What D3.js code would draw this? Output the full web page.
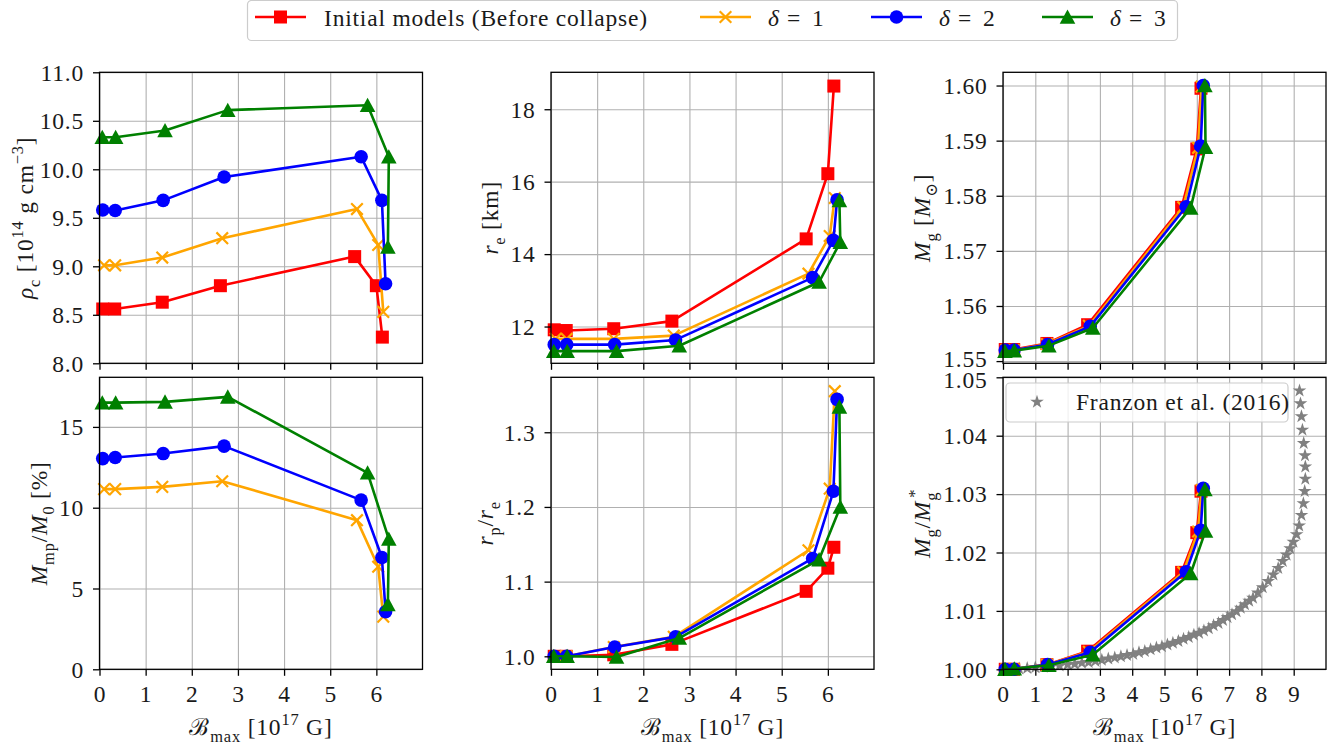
<!DOCTYPE html>
<html>
<head>
<meta charset="utf-8">
<script src="https://cdn.jsdelivr.net/npm/d3@7"></script>
<style>
  html, body { margin: 0; padding: 0; background: #fff; }
  svg { display: block; }
  svg text { font-family: "Liberation Serif", "Times New Roman", "DejaVu Serif", serif; letter-spacing: 0.8px; }
</style>
</head>
<body>
<svg id="chart" width="1343" height="748"></svg>
<script>
// ---- Maximum magnetic field B_max [1e17 G] for each sequence ----
const bInitial = [0.07, 0.33, 1.36, 2.62, 5.53, 6.00, 6.13];
const bDelta1  = [0.10, 0.34, 1.36, 2.66, 5.58, 6.04, 6.15];
const bDelta2  = [0.07, 0.34, 1.38, 2.70, 5.67, 6.12, 6.20];
const bDelta3  = [0.06, 0.35, 1.42, 2.78, 5.81, 6.27, 6.25];

// ---- Central density rho_c [1e14 g cm^-3] ----
const rhoInitial = [8.56, 8.56, 8.63, 8.80, 9.10, 8.80, 8.27];
const rhoDelta1  = [9.01, 9.01, 9.09, 9.29, 9.59, 9.22, 8.53];
const rhoDelta2  = [9.58, 9.575, 9.68, 9.92, 10.13, 9.68, 8.82];
const rhoDelta3  = [10.33, 10.33, 10.40, 10.61, 10.66, 10.13, 9.20];

// ---- Equatorial radius r_e [km] ----
const reInitial = [11.91, 11.89, 11.94, 12.15, 14.42, 16.22, 18.64];
const reDelta1  = [11.66, 11.66, 11.66, 11.75, 13.46, 14.50, 15.55];
const reDelta2  = [11.50, 11.50, 11.50, 11.63, 13.35, 14.38, 15.50];
const reDelta3  = [11.32, 11.32, 11.32, 11.47, 13.23, 14.33, 15.48];

// ---- Gravitational mass M_g [M_sun] ----
const mgInitial = [1.5521, 1.5521, 1.5532, 1.5566, 1.5779, 1.5885, 1.5995];
const mgDelta1  = [1.5520, 1.5520, 1.5531, 1.5564, 1.5779, 1.5887, 1.5998];
const mgDelta2  = [1.5520, 1.5520, 1.5530, 1.5563, 1.5780, 1.5890, 1.6000];
const mgDelta3  = [1.5518, 1.5519, 1.5528, 1.5560, 1.5778, 1.5888, 1.6000];

// ---- Ejected/mass-loss fraction M_mp/M_0 [%] (collapsed models only) ----
const mmpDelta1 = [11.15, 11.15, 11.29, 11.64, 9.23, 6.35, 3.26];
const mmpDelta2 = [13.04, 13.11, 13.35, 13.81, 10.47, 6.92, 3.56];
const mmpDelta3 = [16.50, 16.50, 16.55, 16.86, 12.16, 8.06, 4.02];

// ---- Axis ratio r_p/r_e ----
const rpInitial = [1.000, 1.000, 1.002, 1.016, 1.087, 1.118, 1.146];
const rpDelta1  = [1.000, 1.000, 1.0125, 1.026, 1.142, 1.2245, 1.355];
const rpDelta2  = [1.000, 1.000, 1.0125, 1.026, 1.131, 1.221, 1.344];
const rpDelta3  = [1.000, 1.000, 0.999, 1.0245, 1.1295, 1.200, 1.334];

// ---- Mass ratio M_g / M_g* ----
const ratioInitial = [1.0000, 1.0000, 1.0008, 1.0031, 1.0166, 1.0234, 1.0305];
const ratioDelta1  = [1.0000, 1.0000, 1.0008, 1.0030, 1.0166, 1.0236, 1.0307];
const ratioDelta2  = [1.0000, 1.0000, 1.0008, 1.0029, 1.0167, 1.0238, 1.0310];
const ratioDelta3  = [1.0000, 1.0001, 1.0007, 1.0025, 1.0164, 1.0237, 1.0308];

// ---- Franzon et al. (2016) sequence ----
const franzonB = [0.50,0.75,1.00,1.25,1.50,1.75,2.00,2.22,2.44,2.65,2.86,3.06,3.26,3.46,3.65,3.84,
  4.03,4.21,4.39,4.57,4.75,4.92,5.09,5.26,5.43,5.59,5.75,5.91,6.07,6.22,6.37,6.52,6.67,6.81,6.95,
  7.09,7.23,7.36,7.49,7.62,7.74,7.89,8.04,8.21,8.37,8.52,8.66,8.78,8.89,8.99,9.09,9.17,9.24,9.30,
  9.34,9.36,9.36,9.35,9.31,9.27,9.24,9.21,9.18];
const franzonRatio = [1.0001,1.0002,1.0003,1.0004,1.0005,1.0006,1.0008,1.0009,1.0011,1.0012,1.0014,
  1.0016,1.0018,1.0020,1.0022,1.0024,1.0026,1.0029,1.0031,1.0034,1.0037,1.0039,1.0042,1.0045,1.0048,
  1.0052,1.0055,1.0059,1.0062,1.0066,1.0070,1.0075,1.0079,1.0084,1.0089,1.0094,1.0099,1.0105,1.0111,
  1.0117,1.0122,1.0131,1.0140,1.0151,1.0162,1.0173,1.0185,1.0196,1.0207,1.0218,1.0231,1.0246,1.0264,
  1.0284,1.0305,1.0326,1.0347,1.0366,1.0387,1.0410,1.0433,1.0455,1.0477];

// ---- Legend labels ----
const legendLabels = ["Initial models (Before collapse)", "δ = 1", "δ = 2", "δ = 3"];

// ---- Drawing ----
const svg = d3.select("#chart");
const FONT = "Liberation Serif, Times New Roman, DejaVu Serif, serif";
const FS = 23.5;

const series = [
  { key: "initial", color: "#ff0000", marker: "square",   b: bInitial },
  { key: "delta1",  color: "#ffa500", marker: "x",        b: bDelta1 },
  { key: "delta2",  color: "#0000ff", marker: "circle",   b: bDelta2 },
  { key: "delta3",  color: "#008000", marker: "triangle", b: bDelta3 }
];

const cols = [[99.5, 422.5], [551, 874], [1003, 1326]];
const rows = [[72.3, 363.3], [377.3, 669.3]];
const xDomains = [[0, 7], [0, 7], [0, 10]];
const xTicks = [d3.range(0, 7), d3.range(0, 7), d3.range(0, 10)];

const panels = [
  { c: 0, r: 0, y: [8, 11], ticks: [8, 8.5, 9, 9.5, 10, 10.5, 11], fmt: d3.format(".1f"),
    vals: { initial: rhoInitial, delta1: rhoDelta1, delta2: rhoDelta2, delta3: rhoDelta3 },
    labelX: 33,
    label: [{t:"ρ",it:1},{t:"c",sub:1},{t:" [10"},{t:"14",sup:1},{t:" g cm"},{t:"−3",sup:1},{t:"]"}] },
  { c: 1, r: 0, y: [10.985, 19.02], ticks: [12, 14, 16, 18], fmt: d3.format("d"),
    vals: { initial: reInitial, delta1: reDelta1, delta2: reDelta2, delta3: reDelta3 },
    labelX: 498,
    label: [{t:"r",it:1},{t:"e",sub:1},{t:" [km]"}] },
  { c: 2, r: 0, y: [1.5496, 1.6024], ticks: [1.55, 1.56, 1.57, 1.58, 1.59, 1.60], fmt: d3.format(".2f"),
    vals: { initial: mgInitial, delta1: mgDelta1, delta2: mgDelta2, delta3: mgDelta3 },
    labelX: 930, edgeShift: { 1.55: -2 },
    label: [{t:"M",it:1},{t:"g",sub:1},{t:" ["},{t:"M",it:1},{t:"⊙",sub:1},{t:"]"}] },
  { c: 0, r: 1, y: [0, 18.07], ticks: [0, 5, 10, 15], fmt: d3.format("d"),
    vals: { delta1: mmpDelta1, delta2: mmpDelta2, delta3: mmpDelta3 },
    labelX: 47,
    label: [{t:"M",it:1},{t:"mp",sub:1},{t:"/"},{t:"M",it:1},{t:"0",sub:1},{t:" [%]"}] },
  { c: 1, r: 1, y: [0.9826, 1.3736], ticks: [1.0, 1.1, 1.2, 1.3], fmt: d3.format(".1f"),
    vals: { initial: rpInitial, delta1: rpDelta1, delta2: rpDelta2, delta3: rpDelta3 },
    labelX: 493,
    label: [{t:"r",it:1},{t:"p",sub:1},{t:"/"},{t:"r",it:1},{t:"e",sub:1}] },
  { c: 2, r: 1, y: [1.0, 1.05], ticks: [1.00, 1.01, 1.02, 1.03, 1.04, 1.05], fmt: d3.format(".2f"),
    vals: { initial: ratioInitial, delta1: ratioDelta1, delta2: ratioDelta2, delta3: ratioDelta3 },
    labelX: 930, franzon: true, edgeShift: { 1.05: 2 },
    label: [{t:"M",it:1},{t:"g",sub:1},{t:"/"},{t:"M",it:1},{t:"g",sub:1},{t:"*",sup:1,dx:-6}] }
];

// Appends sub/superscript-aware tspans to a text element
function rich(text, parts, fs) {
  let shift = 0;
  parts.forEach(p => {
    const ts = text.append("tspan").text(p.t);
    const target = p.sub ? fs * 0.3 : p.sup ? -fs * 0.42 : 0;
    const dy = target - shift;
    if (dy !== 0) ts.attr("dy", dy);
    shift = target;
    if (p.sub || p.sup) ts.attr("font-size", fs * 0.7);
    if (p.it) ts.attr("font-style", "italic");
    if (p.dx) ts.attr("dx", p.dx);
  });
}

function drawMarker(g, type, x, y, color) {
  if (type === "square") {
    g.append("rect").attr("x", x - 6.5).attr("y", y - 6.5).attr("width", 13).attr("height", 13)
      .attr("fill", color);
  } else if (type === "circle") {
    g.append("circle").attr("cx", x).attr("cy", y).attr("r", 6.8).attr("fill", color);
  } else if (type === "triangle") {
    g.append("path").attr("d", `M${x},${y - 7.5}L${x + 7.8},${y + 6.8}L${x - 7.8},${y + 6.8}Z`)
      .attr("fill", color);
  } else if (type === "x") {
    const s = 5.8;
    g.append("path").attr("d", `M${x - s},${y - s}L${x + s},${y + s}M${x - s},${y + s}L${x + s},${y - s}`)
      .attr("stroke", color).attr("stroke-width", 2.2).attr("fill", "none");
  } else if (type === "star") {
    g.append("path").attr("d", d3.symbol(d3.symbolStar, 58)()).attr("transform", `translate(${x},${y})`)
      .attr("fill", "#808080");
  }
}

panels.forEach(p => {
  const [x0, x1] = cols[p.c];
  const [y0, y1] = rows[p.r];
  const x = d3.scaleLinear().domain(xDomains[p.c]).range([x0, x1]);
  const y = d3.scaleLinear().domain(p.y).range([y1, y0]);
  const g = svg.append("g");

  // grid
  g.append("g").attr("transform", `translate(0,${y1})`)
    .call(d3.axisBottom(x).tickValues(xTicks[p.c]).tickSize(-(y1 - y0)).tickFormat(""))
    .call(a => a.select(".domain").remove())
    .call(a => a.selectAll("line").attr("stroke", "#b0b0b0").attr("stroke-width", 1.1));
  g.append("g").attr("transform", `translate(${x0},0)`)
    .call(d3.axisLeft(y).tickValues(p.ticks).tickSize(-(x1 - x0)).tickFormat(""))
    .call(a => a.select(".domain").remove())
    .call(a => a.selectAll("line").attr("stroke", "#b0b0b0").attr("stroke-width", 1.1));

  // reference sequence
  if (p.franzon) {
    const fg = g.append("g");
    franzonB.forEach((b, i) => drawMarker(fg, "star", x(b), y(franzonRatio[i]), "#808080"));
  }

  // series lines and markers
  series.forEach(s => {
    const v = p.vals[s.key];
    if (!v) return;
    const pts = s.b.map((b, i) => [x(b), y(v[i])]);
    g.append("path").attr("d", d3.line()(pts)).attr("fill", "none")
      .attr("stroke", s.color).attr("stroke-width", 2.6).attr("stroke-linejoin", "round");
    const mg = g.append("g");
    pts.forEach(([px, py]) => drawMarker(mg, s.marker, px, py, s.color));
  });

  // frame
  g.append("rect").attr("x", x0).attr("y", y0).attr("width", x1 - x0).attr("height", y1 - y0)
    .attr("fill", "none").attr("stroke", "#000").attr("stroke-width", 1.3);

  // x axis ticks
  const xa = g.append("g").attr("transform", `translate(0,${y1})`)
    .call(d3.axisBottom(x).tickValues(xTicks[p.c]).tickSize(6.5).tickPadding(10)
      .tickFormat(p.r === 1 ? d3.format("d") : ""));
  xa.attr("font-family", null).attr("font-size", null);
  xa.select(".domain").remove();
  xa.selectAll("line").attr("stroke", "#000").attr("stroke-width", 1.3);
  xa.selectAll("text").style("font-family", FONT).attr("font-size", FS).attr("fill", "#1a1a1a")
    .attr("dy", "0.71em");

  // y axis ticks
  const ya = g.append("g").attr("transform", `translate(${x0},0)`)
    .call(d3.axisLeft(y).tickValues(p.ticks).tickSize(6.5).tickPadding(9).tickFormat(p.fmt));
  ya.attr("font-family", null).attr("font-size", null);
  ya.select(".domain").remove();
  ya.selectAll("line").attr("stroke", "#000").attr("stroke-width", 1.3);
  ya.selectAll("text").style("font-family", FONT).attr("font-size", FS).attr("fill", "#1a1a1a")
    .attr("dy", "0.33em")
    .attr("y", d => (p.edgeShift && p.edgeShift[d]) ? p.edgeShift[d] : 0);

  // y label
  const yl = g.append("text")
    .attr("transform", `translate(${p.labelX},${(y0 + y1) / 2}) rotate(-90)`)
    .attr("text-anchor", "middle").style("font-family", FONT).attr("font-size", FS).attr("fill", "#1a1a1a");
  rich(yl, p.label, FS);

  // x label for bottom row
  if (p.r === 1) {
    const xl = g.append("text").attr("x", (x0 + x1) / 2).attr("y", 735)
      .attr("text-anchor", "middle").style("font-family", FONT).attr("font-size", FS).attr("fill", "#1a1a1a");
    rich(xl, [{t:"ℬ"},{t:"max",sub:1},{t:" [10"},{t:"17",sup:1},{t:" G]"}], FS);
  }

  // legend for reference sequence
  if (p.franzon) {
    const lg = g.append("g");
    lg.append("rect").attr("x", 1006).attr("y", 383).attr("width", 282).attr("height", 39).attr("rx", 4)
      .attr("fill", "#fff").attr("fill-opacity", 0.8).attr("stroke", "#cccccc").attr("stroke-width", 1.2);
    drawMarker(lg, "star", 1037, 402, "#808080");
    lg.append("text").attr("x", 1076).attr("y", 410).style("font-family", FONT).attr("font-size", FS)
      .attr("fill", "#1a1a1a").text("Franzon et al. (2016)");
  }
});

// ---- Top legend ----
const leg = svg.append("g");
leg.append("rect").attr("x", 247.5).attr("y", 0.5).attr("width", 930).attr("height", 40).attr("rx", 4)
  .attr("fill", "#fff").attr("stroke", "#cccccc").attr("stroke-width", 1.2);
const legX = [255, 700, 871, 1042];
series.forEach((s, i) => {
  const lx = legX[i];
  leg.append("line").attr("x1", lx).attr("x2", lx + 51).attr("y1", 17).attr("y2", 17)
    .attr("stroke", s.color).attr("stroke-width", 2.6);
  drawMarker(leg, s.marker, lx + 25.5, 17, s.color);
  const t = leg.append("text").attr("x", lx + 69).attr("y", 26).style("font-family", FONT)
    .attr("font-size", FS).attr("fill", "#1a1a1a");
  if (i === 0) t.text(legendLabels[0]);
  else {
    // math-style spacing: symbol, relation, value
    const parts = legendLabels[i].split(" ");
    t.append("tspan").attr("x", lx + 68).attr("font-style", "italic").text(parts[0]);
    t.append("tspan").attr("x", lx + 87).text(parts[1]);
    t.append("tspan").attr("x", lx + 112).text(parts[2]);
  }
});
</script>
</body>
</html>
